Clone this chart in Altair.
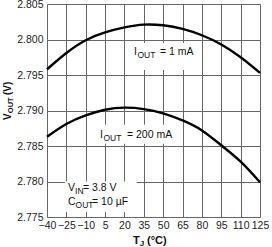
import altair as alt
import pandas as pd

# Data
temps = [-40, -25, -10, 5, 20, 35, 50, 65, 80, 95, 110, 125]
v_1ma = [2.7958, 2.7981, 2.7999, 2.8010, 2.8017, 2.8021, 2.8020, 2.8015, 2.8006, 2.7993, 2.7975, 2.7953]
v_200ma = [2.7863, 2.7881, 2.7893, 2.7901, 2.7904, 2.7902, 2.7896, 2.7886, 2.7872, 2.7851, 2.7828, 2.7799]
y_ticks = [2.775, 2.780, 2.785, 2.790, 2.795, 2.800, 2.805]
series_names = ["1 mA", "200 mA"]

FONT = "Liberation Sans"

df = pd.DataFrame({
    "T": temps + temps,
    "V": v_1ma + v_200ma,
    "series": [series_names[0]] * len(temps) + [series_names[1]] * len(temps),
})

xscale = alt.Scale(domain=[-40, 125], nice=False, zero=False)
yscale = alt.Scale(domain=[2.775, 2.805], nice=False, zero=False)
xaxis = alt.Axis(values=temps, title=None, grid=True, ticks=False, domain=False,
                 labelFlush=False, labelOverlap=False, labelPadding=3,
                 labelFontSize=10.5, labelFont=FONT, labelColor="#222",
                 gridColor="#666", gridWidth=1)
yaxis = alt.Axis(values=y_ticks, format=".3f", title=None, grid=True, ticks=False,
                 domain=False, labelPadding=4, labelFontSize=10.5, labelFont=FONT,
                 labelColor="#222", gridColor="#666", gridWidth=1, labelFlush=False,
                 labelOverlap=False)

lines = alt.Chart(df).mark_line(color="black", strokeWidth=2.4, interpolate="natural").encode(
    x=alt.X("T:Q", scale=xscale, axis=xaxis),
    y=alt.Y("V:Q", scale=yscale, axis=yaxis),
    detail="series:N",
)

one = alt.Data(values=[{}])


def box(t1, t2, v1, v2):
    return alt.Chart(one).mark_rect(color="white").encode(
        x=alt.X(datum=t1, type="quantitative", scale=xscale, axis=xaxis), x2=alt.X2(datum=t2),
        y=alt.Y(datum=v1, type="quantitative", scale=yscale, axis=yaxis), y2=alt.Y2(datum=v2),
    )


def txt(t, v, s, size=10.5, dx=0, dy=0):
    return alt.Chart(one).mark_text(
        text=s, fontSize=size, font=FONT, align="left", baseline="middle", dx=dx, dy=dy,
        color="#111",
    ).encode(x=alt.X(datum=t, type="quantitative", scale=xscale, axis=xaxis),
             y=alt.Y(datum=v, type="quantitative", scale=yscale, axis=yaxis))


def ptxt(x, y, s, size=11, dx=0, dy=0, angle=0):
    props = dict(text=s, fontSize=size, font=FONT, align="left", baseline="middle",
                 dx=dx, dy=dy, color="#111", fontWeight="bold")
    if angle:
        props["angle"] = angle
    return alt.Chart(one).mark_text(**props).encode(x=alt.value(x), y=alt.value(y))


layers = [
    box(21.5, 78.0, 2.7957, 2.7995),
    box(-5.0, 61.0, 2.7853, 2.7880),
    box(-26.0, 29.5, 2.7757, 2.7800),
    lines,
    # I_OUT = 1 mA
    txt(27.4, 2.7982, "I"),
    txt(27.4, 2.7982, "OUT", size=8.5, dx=3.5, dy=3),
    txt(27.4, 2.7982, "= 1 mA", dx=26),
    # I_OUT = 200 mA
    txt(1.0, 2.7866, "I"),
    txt(1.0, 2.7866, "OUT", size=8.5, dx=3.5, dy=3),
    txt(1.0, 2.7866, "= 200 mA", dx=27),
    # V_IN / C_OUT
    txt(-23.7, 2.7791, "V"),
    txt(-23.7, 2.7791, "IN", size=8.5, dx=7, dy=3),
    txt(-23.7, 2.7791, "= 3.8 V", dx=15),
    txt(-23.7, 2.7771, "C"),
    txt(-23.7, 2.7771, "OUT", size=8.5, dx=7.5, dy=3),
    txt(-23.7, 2.7771, "= 10 \u00b5F", dx=24),
    # axis titles
    ptxt(86, 237, "T"),
    ptxt(86, 237, "J", size=8, dx=6.8, dy=3),
    ptxt(86, 237, "(\u00b0C)", dx=14),
    ptxt(-39, 116, "V", size=10, angle=270),
    ptxt(-39, 116, "OUT", size=7.5, dx=6.8, dy=2.5, angle=270),
    ptxt(-39, 116, "(V)", size=10, dx=25, angle=270),
]

chart = alt.layer(*layers).properties(
    width=213, height=213,
    autosize=alt.AutoSizeParams(type="none"),
    padding={"left": 47, "top": 4, "right": 12, "bottom": 30},
).configure_view(stroke="black", strokeWidth=2).configure(background="white")

chart.save("out.html", embed_options={"renderer": "svg", "actions": False})
